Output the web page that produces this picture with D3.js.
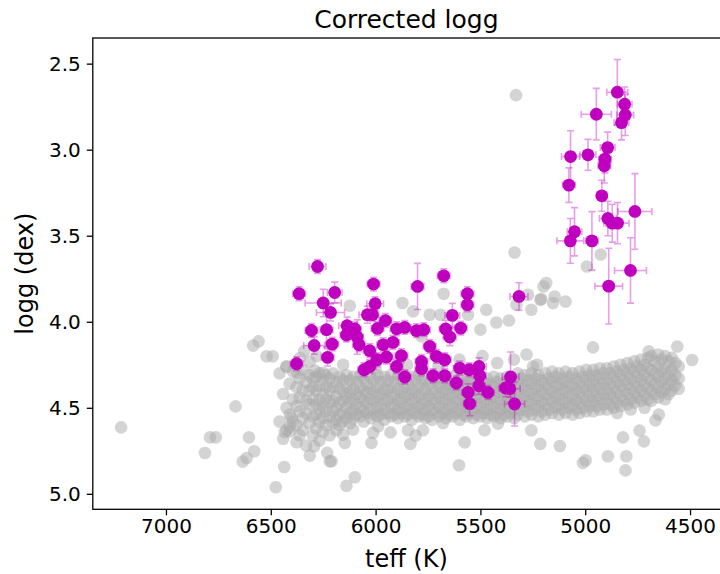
<!DOCTYPE html>
<html><head><meta charset="utf-8">
<script src="https://cdn.jsdelivr.net/npm/d3@7"></script>
<style>body{margin:0;background:#fff}svg{display:block}text{font-family:"DejaVu Sans",sans-serif}</style>
</head><body>
<svg id="c" width="720" height="574"></svg>
<script>
// x tick labels and y tick labels
const xTicks = [7000, 6500, 6000, 5500, 5000, 4500];
const yTicks = [2.5, 3.0, 3.5, 4.0, 4.5, 5.0];

// dense main-sequence band of the comparison sample: [teff, [logg...]]
const grayBand = [
[6458,[4.30,4.58]],[6441,[4.42,4.68]],[6425,[4.26,4.50,4.63]],[6410,[4.36,4.54,4.61]],
[6394,[4.29,4.45,4.58]],[6377,[4.38,4.49,4.60,4.70]],[6362,[4.33,4.44,4.52,4.66]],
[6348,[4.28,4.40,4.56,4.63]],[6331,[4.35,4.46,4.53,4.72]],[6316,[4.31,4.40,4.48,4.59]],
[6300,[4.33,4.38,4.45,4.55,4.66]],
[6284,[4.32,4.40,4.48,4.54,4.62]],[6268,[4.30,4.37,4.45,4.51,4.58,4.69]],
[6251,[4.34,4.42,4.49,4.56,4.64]],[6236,[4.31,4.38,4.45,4.52,4.60]],
[6219,[4.33,4.40,4.47,4.55,4.66]],[6203,[4.30,4.38,4.46,4.52,4.59]],
[6188,[4.35,4.43,4.50,4.57,4.63]],[6172,[4.32,4.39,4.47,4.54,4.60]],
[6155,[4.34,4.41,4.46,4.53,4.58]],
[6139,[4.31,4.38,4.44,4.50,4.56]],[6122,[4.34,4.41,4.47,4.53,4.59]],
[6106,[4.32,4.39,4.45,4.51,4.56]],[6090,[4.35,4.42,4.48,4.54]],
[6073,[4.31,4.38,4.44,4.50,4.55]],[6057,[4.33,4.40,4.46,4.52,4.58]],
[6041,[4.36,4.41,4.47,4.53]],[6024,[4.32,4.39,4.45,4.51,4.56]],
[6008,[4.34,4.41,4.47,4.54]],[5991,[4.31,4.38,4.44,4.50,4.55]],
[5975,[4.35,4.42,4.48,4.54]],[5959,[4.32,4.39,4.45,4.51,4.57]],
[5942,[4.34,4.40,4.46,4.53]],[5926,[4.31,4.38,4.44,4.50,4.55]],
[5910,[4.35,4.42,4.48,4.54]],[5893,[4.32,4.39,4.45,4.51,4.56]],
[5877,[4.34,4.41,4.47,4.53]],[5861,[4.31,4.38,4.44,4.50,4.55]],
[5844,[4.36,4.42,4.48,4.54]],[5828,[4.32,4.39,4.45,4.51,4.57]],
[5812,[4.34,4.41,4.47,4.53]],[5795,[4.31,4.38,4.44,4.50,4.55]],
[5779,[4.35,4.42,4.48,4.54]],[5763,[4.33,4.39,4.45,4.51,4.56]],
[5746,[4.36,4.43,4.49,4.55]],[5730,[4.32,4.39,4.45,4.51,4.57]],
[5714,[4.34,4.41,4.47,4.53]],
[5697,[4.32,4.38,4.44,4.50,4.55]],[5681,[4.35,4.41,4.47,4.53]],
[5665,[4.33,4.39,4.45,4.51,4.56]],[5648,[4.36,4.42,4.48,4.54]],
[5632,[4.32,4.38,4.44,4.50,4.55]],[5616,[4.35,4.41,4.47,4.53]],
[5599,[4.33,4.39,4.45,4.51,4.57]],[5583,[4.36,4.42,4.48,4.54]],
[5567,[4.32,4.38,4.44,4.50,4.55]],[5550,[4.35,4.41,4.47,4.53]],
[5534,[4.33,4.39,4.45,4.51,4.56]],[5518,[4.36,4.42,4.48,4.54]],
[5501,[4.32,4.38,4.44,4.50,4.55]],[5485,[4.35,4.41,4.47,4.53]],
[5469,[4.33,4.39,4.45,4.51,4.56]],[5452,[4.36,4.42,4.48,4.54]],
[5436,[4.32,4.38,4.44,4.50,4.55]],[5420,[4.35,4.41,4.47,4.53]],
[5403,[4.33,4.39,4.45,4.51,4.56]],[5387,[4.36,4.42,4.48,4.54]],
[5371,[4.32,4.38,4.44,4.50,4.55]],[5354,[4.35,4.41,4.47,4.53]],
[5338,[4.33,4.39,4.45,4.51,4.56]],[5322,[4.30,4.36,4.42,4.48,4.54]],
[5305,[4.33,4.39,4.45,4.51]],[5289,[4.31,4.37,4.43,4.49,4.55]],
[5273,[4.34,4.40,4.46,4.52]],[5256,[4.30,4.36,4.42,4.48,4.54]],
[5240,[4.33,4.39,4.45,4.51]],[5224,[4.31,4.37,4.43,4.49,4.55]],
[5207,[4.34,4.40,4.46,4.52]],
[5191,[4.30,4.36,4.42,4.48,4.54]],[5175,[4.33,4.39,4.45,4.51]],
[5158,[4.29,4.35,4.41,4.47,4.53]],[5142,[4.32,4.38,4.44,4.50]],
[5126,[4.30,4.36,4.42,4.48,4.54]],[5109,[4.33,4.39,4.45,4.51]],
[5093,[4.29,4.35,4.41,4.47,4.53]],[5077,[4.32,4.38,4.44,4.50]],
[5060,[4.30,4.36,4.42,4.48,4.54]],[5044,[4.33,4.39,4.45,4.51]],
[5028,[4.29,4.35,4.41,4.47,4.53]],[5011,[4.32,4.38,4.44,4.50]],
[4995,[4.28,4.34,4.40,4.46,4.52]],[4979,[4.31,4.37,4.43,4.49]],
[4962,[4.28,4.34,4.40,4.46,4.52]],[4946,[4.31,4.37,4.43,4.49]],
[4930,[4.27,4.33,4.39,4.45,4.51]],[4913,[4.30,4.36,4.42,4.48]],
[4897,[4.27,4.33,4.39,4.45,4.51]],[4881,[4.30,4.36,4.42,4.48]],
[4864,[4.26,4.32,4.38,4.44,4.50]],[4848,[4.29,4.35,4.41,4.47,4.53]],
[4832,[4.25,4.31,4.37,4.43,4.49]],[4815,[4.28,4.34,4.40,4.46]],
[4799,[4.24,4.30,4.36,4.42,4.48]],[4783,[4.27,4.33,4.39,4.45,4.51]],
[4766,[4.23,4.29,4.35,4.41,4.47]],[4750,[4.26,4.32,4.38,4.44]],
[4734,[4.22,4.28,4.34,4.40,4.46]],[4717,[4.25,4.31,4.37,4.43,4.50]],
[4701,[4.21,4.27,4.33,4.39,4.45]],[4685,[4.20,4.28,4.34,4.40,4.46]],
[4668,[4.23,4.30,4.36,4.42]],[4652,[4.19,4.26,4.32,4.38,4.44]],
[4636,[4.22,4.29,4.35,4.41]],[4619,[4.20,4.27,4.33,4.39,4.45]],
[4603,[4.23,4.30,4.36,4.42]],[4587,[4.21,4.28,4.34,4.40]],
[4570,[4.24,4.31,4.37]],[4554,[4.26,4.33,4.39]]
];

// scattered comparison stars: [teff, logg]
const grayScatter = [
[7214,4.614],[6790,4.672],[6762,4.672],[6814,4.763],[6668,4.492],[6604,4.672],[6579,4.753],
[6615,4.792],[6634,4.813],[6436,4.844],[6476,4.962],[6584,4.139],[6558,4.114],[6520,4.201],
[6425,4.26],[6374,4.298],[6361,4.211],[6314,4.231],[6290,4.283],[6401,4.559],[6433,4.641],
[6409,4.637],[6293,4.724],[6314,4.778],[6231,4.762],[6218,4.811],[6491,4.201],[6250,4.298],
[6155,4.25],[6139,4.953],[6099,4.904],[6210,4.811],[6147,4.704],[6155,4.656],[6107,4.627],
[6020,4.704],[6012,4.646],[5988,4.608],[5929,4.643],[5845,4.631],[5834,4.710],[5809,4.662],
[5774,4.631],[5678,4.588],[5602,4.834],[5575,4.701],[5480,4.631],[5416,4.592],[5257,4.631],
[5214,4.710],[5121,4.722],[4820,4.672],[4741,4.633],[4720,4.695],[4998,4.805],[5011,4.82],
[4892,4.782],[4804,4.782],[4808,4.864],[4665,4.573],[4649,4.54],
[5330,2.683],[5337,3.598],[4926,3.609],[4992,3.679],[5199,3.795],[5210,3.868],[5146,3.853],
[5154,3.891],[5094,3.882],[5675,3.837],[5872,3.891],[6123,3.907],[5472,3.93],[5559,3.959],
[5500,4.046],[5424,4.004],[5364,3.993],[5249,4.26],[5273,3.843],[5214,3.872],[5257,3.93],
[5186,3.775],[5328,3.901],[5821,3.94],[5742,3.959],[5691,3.959],[5781,4.085],
[4561,4.144],[4490,4.222],[4697,4.172],[4963,4.149],
[5490,4.20],[5420,4.24],[5340,4.22],[5280,4.19],[5230,4.25],[5600,4.22],[5700,4.26],
[5850,4.25],[6000,4.27],[6340,4.17],[6280,4.20]
];

// highlighted sample: teff, logg, teff error, logg error
const magTeff = [4847,4812,4809,4827,4947,4893,4906,4909,5070,4987,5078,4921,4763,4892,4871,4846,5051,5071,4968,4784,4888,
6277,6365,6195,6250,6215,6306,6234,6293,6207,6229,6377,6010,6002,6039,6015,6136,6099,6139,6088,6079,
5953,5991,5900,5861,5800,5675,5562,5562,5634,5805,5770,5666,5594,5646,5316,6028,5964,5917,5877,5993,
5948,5900,6055,6028,5861,5781,5742,5710,5670,5781,5726,5670,5599,5554,5507,5503,5615,5507,5464,5559,
5551,5356,5380,5360,5337];
const magLogg = [2.666,2.736,2.798,2.843,2.794,2.988,3.055,3.094,3.040,3.030,3.206,3.268,3.359,3.400,3.427,3.427,3.477,3.530,3.530,3.702,3.793,
3.679,3.837,3.830,3.891,3.946,4.051,4.046,4.138,4.130,4.207,4.244,3.781,3.895,3.959,3.959,4.023,4.042,4.077,4.089,4.134,
3.993,4.039,4.041,4.033,3.795,3.733,3.837,3.901,3.963,4.052,4.046,4.042,4.037,4.089,3.853,4.168,4.134,4.120,4.197,4.221,
4.205,4.260,4.279,4.260,4.321,4.231,4.143,4.201,4.221,4.273,4.314,4.314,4.269,4.279,4.260,4.314,4.356,4.372,4.411,4.411,
4.476,4.321,4.385,4.389,4.478];
const magTeffErr = [50,35,40,35,72,35,30,30,43,38,30,25,81,40,40,55,35,64,30,76,66,
40,30,35,86,67,30,30,50,30,30,30,30,40,40,30,40,30,30,30,30,
30,30,30,30,30,30,30,30,35,30,30,30,30,30,43,30,30,30,30,30,
30,30,30,30,30,30,30,30,30,30,30,30,30,30,35,30,30,30,30,30,
30,40,30,50,48];
const magLoggErr = [0.19,0.10,0.12,0.10,0.15,0.09,0.08,0.10,0.15,0.09,0.10,0.09,0.22,0.10,0.11,0.12,0.14,0.13,0.17,0.19,0.22,
0.04,0.04,0.06,0.08,0.05,0.04,0.10,0.05,0.04,0.05,0.04,0.04,0.04,0.05,0.04,0.05,0.04,0.04,0.10,0.04,
0.04,0.04,0.04,0.04,0.134,0.04,0.04,0.04,0.07,0.04,0.04,0.05,0.04,0.05,0.08,0.04,0.04,0.04,0.04,0.04,
0.04,0.04,0.04,0.04,0.04,0.04,0.04,0.04,0.04,0.04,0.04,0.04,0.04,0.04,0.05,0.04,0.04,0.05,0.04,0.05,
0.07,0.145,0.05,0.05,0.128];

const svg = d3.select("#c");
const L = 92.8, R = 724, T = 38, B = 509.3;
const x = d3.scaleLinear().domain([7349, 4338]).range([L, R]);
const y = d3.scaleLinear().domain([2.351, 5.090]).range([T, B]);

svg.append("defs").append("clipPath").attr("id","clip")
  .append("rect").attr("x",L).attr("y",T).attr("width",R-L).attr("height",B-T);

const grayPts = [];
grayBand.forEach(([t, gs]) => gs.forEach(g => grayPts.push([t, g])));
grayScatter.forEach(p => grayPts.push(p));

const plot = svg.append("g").attr("clip-path","url(#clip)");
plot.append("g").selectAll("circle").data(grayPts).join("circle")
  .attr("cx", d => x(d[0])).attr("cy", d => y(d[1])).attr("r", 6.3)
  .attr("fill", "#a9a9a9").attr("fill-opacity", 0.5);

const mag = magTeff.map((t, i) => ({t, g: magLogg[i], et: magTeffErr[i], eg: magLoggErr[i]}));
const eb = plot.append("g").attr("stroke", "#bf00bf").attr("stroke-opacity", 0.38).attr("stroke-width", 1.6).attr("fill","none");
const cap = 3.5;
mag.forEach(d => {
  const cx = x(d.t), cy = y(d.g);
  const x0 = x(d.t + d.et), x1 = x(d.t - d.et), y0 = y(d.g - d.eg), y1 = y(d.g + d.eg);
  const p = d3.path();
  p.moveTo(x0, cy); p.lineTo(x1, cy);
  p.moveTo(cx, y0); p.lineTo(cx, y1);
  p.moveTo(x0, cy - cap); p.lineTo(x0, cy + cap);
  p.moveTo(x1, cy - cap); p.lineTo(x1, cy + cap);
  p.moveTo(cx - cap, y0); p.lineTo(cx + cap, y0);
  p.moveTo(cx - cap, y1); p.lineTo(cx + cap, y1);
  eb.append("path").attr("d", p.toString());
});
plot.append("g").selectAll("circle").data(mag).join("circle")
  .attr("cx", d => x(d.t)).attr("cy", d => y(d.g)).attr("r", 6.4)
  .attr("fill", "#bf00bf");

// axes
const xAxis = d3.axisBottom(x).tickValues(xTicks).tickFormat(d3.format("d")).tickSize(6).tickPadding(4);
const gx = svg.append("g").attr("transform", `translate(0,${B})`).call(xAxis);
const yAxis = d3.axisLeft(y).tickValues(yTicks).tickFormat(d3.format(".1f")).tickSize(6).tickPadding(6);
const gy = svg.append("g").attr("transform", `translate(${L},0)`).call(yAxis);
[gx, gy].forEach(g => {
  g.select(".domain").remove();
  g.selectAll("line").attr("stroke", "#000").attr("stroke-width", 1.3);
  g.selectAll("text").attr("font-size", 20).attr("fill", "#000").attr("font-family", "DejaVu Sans");
});
// spines
svg.append("rect").attr("x", L).attr("y", T).attr("width", R - L).attr("height", B - T)
  .attr("fill", "none").attr("stroke", "#000").attr("stroke-width", 1.3);

svg.append("text").attr("x", (L + R) / 2 - 2).attr("y", 28).attr("text-anchor", "middle")
  .attr("font-size", 25).text("Corrected logg");
svg.append("text").attr("x", (L + R) / 2 - 2).attr("y", 567).attr("text-anchor", "middle")
  .attr("font-size", 24).text("teff (K)");
svg.append("text").attr("transform", `translate(33,${(T + B) / 2}) rotate(-90)`).attr("text-anchor", "middle")
  .attr("font-size", 24).text("logg (dex)");
</script>
</body></html>
